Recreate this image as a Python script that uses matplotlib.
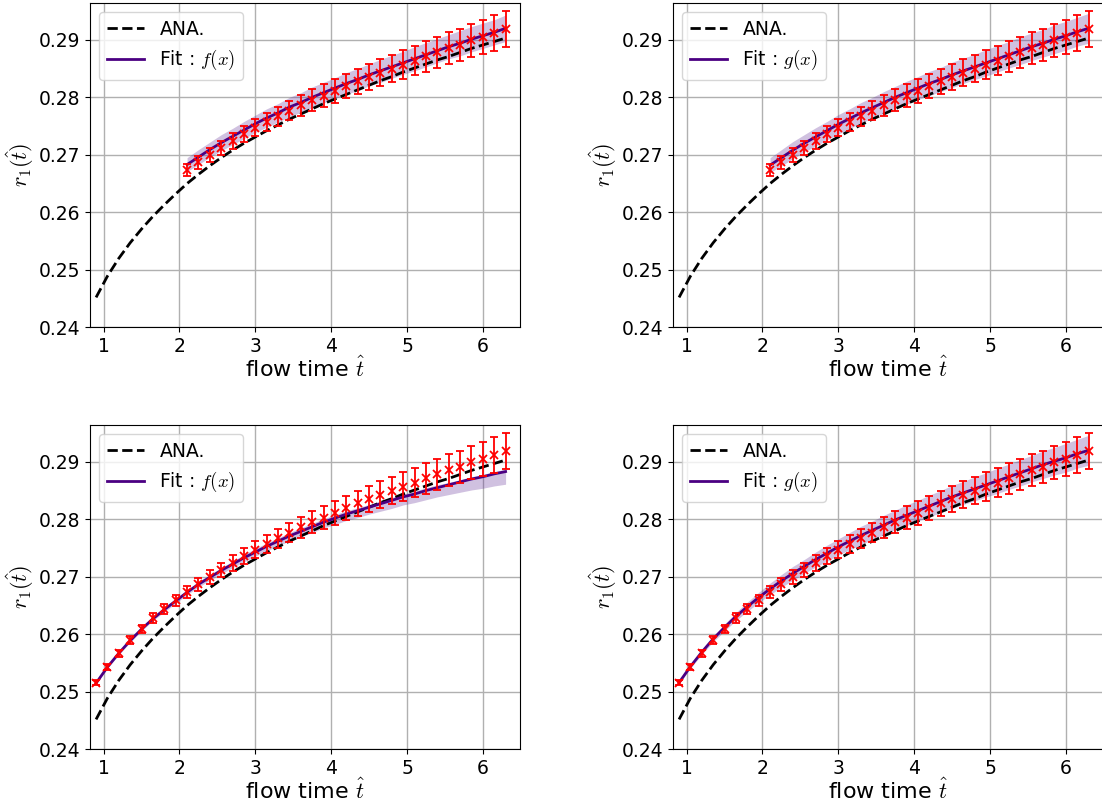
import matplotlib
matplotlib.use("Agg")
import numpy as np
import matplotlib.pyplot as plt

plt.rcParams['mathtext.fontset'] = 'cm'

# flow times of the measured points
t_hat = [0.90, 1.05, 1.20, 1.35, 1.50, 1.65, 1.80, 1.95, 2.10, 2.25,
         2.40, 2.55, 2.70, 2.85, 3.00, 3.15, 3.30, 3.45, 3.60, 3.75,
         3.90, 4.05, 4.20, 4.35, 4.50, 4.65, 4.80, 4.95, 5.10, 5.25,
         5.40, 5.55, 5.70, 5.85, 6.00, 6.15, 6.30]

# lattice data r_1(t) and its error
r1_data = [0.2516, 0.2543, 0.2567, 0.2590, 0.2609, 0.2628, 0.2644, 0.2659, 0.2673, 0.2687,
           0.2700, 0.2712, 0.2724, 0.2736, 0.2747, 0.2757, 0.2767, 0.2777, 0.2786, 0.2795,
           0.2803, 0.2811, 0.2819, 0.2828, 0.2836, 0.2843, 0.2850, 0.2857, 0.2864, 0.2871,
           0.2878, 0.2885, 0.2891, 0.2899, 0.2905, 0.2912, 0.2919]
r1_err = [0.00045, 0.00052, 0.00060, 0.00068, 0.00075, 0.00082, 0.00090, 0.00097, 0.00105, 0.00112,
          0.00120, 0.00127, 0.00135, 0.00142, 0.00150, 0.00157, 0.00165, 0.00172, 0.00180, 0.00187,
          0.00195, 0.00202, 0.00210, 0.00217, 0.00225, 0.00232, 0.00240, 0.00247, 0.00255, 0.00262,
          0.00270, 0.00277, 0.00285, 0.00292, 0.00300, 0.00307, 0.00315]

# analytic curve
r1_ana = [0.2452, 0.2489, 0.2520, 0.2547, 0.2571, 0.2593, 0.2613, 0.2632, 0.2650, 0.2666,
          0.2681, 0.2695, 0.2708, 0.2720, 0.2731, 0.2742, 0.2752, 0.2762, 0.2771, 0.2780,
          0.2789, 0.2797, 0.2805, 0.2813, 0.2821, 0.2829, 0.2836, 0.2844, 0.2851, 0.2858,
          0.2865, 0.2871, 0.2878, 0.2885, 0.2891, 0.2897, 0.2903]

# fits starting at t = 2.1 (top row)
fit_f_top = [0.2683, 0.2696, 0.2709, 0.2721, 0.2732, 0.2743, 0.2754, 0.2764, 0.2773, 0.2783,
             0.2791, 0.2800, 0.2808, 0.2816, 0.2824, 0.2831, 0.2839, 0.2846, 0.2853, 0.2860,
             0.2867, 0.2874, 0.2881, 0.2888, 0.2894, 0.2901, 0.2907, 0.2913, 0.2920]
band_f_top = [0.0012, 0.0013, 0.0013, 0.0014, 0.0014, 0.0015, 0.0015, 0.0016, 0.0016, 0.0017,
              0.0017, 0.0018, 0.0018, 0.0018, 0.0019, 0.0019, 0.0019, 0.0020, 0.0020, 0.0020,
              0.0021, 0.0021, 0.0021, 0.0021, 0.0022, 0.0022, 0.0022, 0.0022, 0.0023]
fit_g_top = [0.2682, 0.2695, 0.2708, 0.2720, 0.2731, 0.2742, 0.2753, 0.2763, 0.2773, 0.2782,
             0.2791, 0.2800, 0.2808, 0.2816, 0.2824, 0.2831, 0.2839, 0.2846, 0.2853, 0.2860,
             0.2867, 0.2874, 0.2881, 0.2888, 0.2894, 0.2901, 0.2907, 0.2914, 0.2920]
band_g_top = [0.0013, 0.0014, 0.0015, 0.0015, 0.0016, 0.0016, 0.0017, 0.0017, 0.0018, 0.0018,
              0.0019, 0.0019, 0.0020, 0.0020, 0.0021, 0.0021, 0.0022, 0.0022, 0.0022, 0.0023,
              0.0023, 0.0023, 0.0024, 0.0024, 0.0024, 0.0025, 0.0025, 0.0025, 0.0026]

# fits starting at t = 0.9 (bottom row)
fit_f_all = [0.2515, 0.2543, 0.2567, 0.2589, 0.2609, 0.2627, 0.2643, 0.2658, 0.2673, 0.2687,
             0.2699, 0.2711, 0.2722, 0.2733, 0.2743, 0.2753, 0.2762, 0.2771, 0.2779, 0.2787,
             0.2795, 0.2802, 0.2809, 0.2815, 0.2821, 0.2827, 0.2833, 0.2839, 0.2844, 0.2850,
             0.2855, 0.2860, 0.2865, 0.2870, 0.2874, 0.2879, 0.2883]
band_f_all_up = [0.0001, 0.0002, 0.0002, 0.0003, 0.0003, 0.0003, 0.0004, 0.0004, 0.0004, 0.0005,
                 0.0005, 0.0005, 0.0005, 0.0006, 0.0006, 0.0006, 0.0006, 0.0006, 0.0006, 0.0006,
                 0.0006, 0.0006, 0.0006, 0.0005, 0.0005, 0.0005, 0.0005, 0.0005, 0.0005, 0.0005,
                 0.0005, 0.0004, 0.0004, 0.0004, 0.0004, 0.0004, 0.0004]
band_f_all_lo = [0.0001, 0.0002, 0.0002, 0.0003, 0.0003, 0.0003, 0.0004, 0.0004, 0.0004, 0.0005,
                 0.0005, 0.0006, 0.0006, 0.0007, 0.0007, 0.0008, 0.0008, 0.0009, 0.0009, 0.0010,
                 0.0010, 0.0011, 0.0011, 0.0012, 0.0012, 0.0013, 0.0014, 0.0014, 0.0015, 0.0016,
                 0.0016, 0.0017, 0.0018, 0.0019, 0.0020, 0.0021, 0.0022]
fit_g_all = [0.2516, 0.2544, 0.2569, 0.2592, 0.2612, 0.2631, 0.2648, 0.2664, 0.2679, 0.2693,
             0.2706, 0.2718, 0.2730, 0.2741, 0.2752, 0.2762, 0.2772, 0.2781, 0.2790, 0.2799,
             0.2807, 0.2815, 0.2823, 0.2831, 0.2839, 0.2846, 0.2853, 0.2860, 0.2867, 0.2874,
             0.2881, 0.2888, 0.2895, 0.2901, 0.2907, 0.2914, 0.2920]
band_g_all = [0.0002, 0.0003, 0.0004, 0.0005, 0.0006, 0.0007, 0.0008, 0.0009, 0.0010, 0.0011,
              0.0012, 0.0012, 0.0013, 0.0014, 0.0014, 0.0015, 0.0016, 0.0016, 0.0017, 0.0017,
              0.0018, 0.0018, 0.0019, 0.0019, 0.0020, 0.0020, 0.0021, 0.0021, 0.0022, 0.0022,
              0.0023, 0.0023, 0.0024, 0.0024, 0.0025, 0.0025, 0.0026]

x_ticks = [1, 2, 3, 4, 5, 6]
y_ticks = [0.24, 0.25, 0.26, 0.27, 0.28, 0.29]

START_TOP = 8  # index of t = 2.1


def draw_panel(ax, start, fit, band_lo, band_up, fit_name):
    t = np.array(t_hat)
    fit = np.array(fit)
    t_fit = t[start:]

    ax.plot(t, r1_ana, '--', color='black', lw=2, label='ANA.', zorder=3)
    ax.fill_between(t_fit, fit - np.array(band_lo), fit + np.array(band_up),
                    color='rebeccapurple', alpha=0.3, lw=0, zorder=2)
    ax.plot(t_fit, fit, '-', color='indigo', lw=2,
            label='Fit : $%s$' % fit_name, zorder=4)
    ax.errorbar(t[start:], r1_data[start:], yerr=r1_err[start:], fmt='x',
                color='red', ms=5.5, mew=1.3, elinewidth=1.3, capsize=3,
                capthick=1.3, zorder=5)

    ax.set_xlim(0.82, 6.49)
    ax.set_ylim(0.24, 0.2964)
    ax.set_xticks(x_ticks)
    ax.set_yticks(y_ticks)
    ax.set_yticklabels(['%.2f' % v for v in y_ticks])
    ax.tick_params(labelsize=13.5)
    ax.grid(True, color='#b0b0b0', lw=1)
    ax.set_axisbelow(True)
    ax.set_xlabel(r'flow time $\hat{t}$', fontsize=16, labelpad=0)
    ax.set_ylabel(r'$r_1(\hat{t})$', fontsize=16, labelpad=2)
    ax.legend(loc='upper left', fontsize=13.5)


def main():
    fig = plt.figure(figsize=(11.02, 8.05), dpi=100)
    W, H = 1102.0, 805.0
    w, h = 430 / W, 324.3 / H
    left_x, right_x = 90 / W, 673 / W
    top_y, bot_y = 1 - 327.3 / H, 1 - 749.3 / H

    ax_tl = fig.add_axes([left_x, top_y, w, h])
    ax_tr = fig.add_axes([right_x, top_y, w, h])
    ax_bl = fig.add_axes([left_x, bot_y, w, h])
    ax_br = fig.add_axes([right_x, bot_y, w, h])

    draw_panel(ax_tl, START_TOP, fit_f_top, band_f_top, band_f_top, 'f(x)')
    draw_panel(ax_tr, START_TOP, fit_g_top, band_g_top, band_g_top, 'g(x)')
    draw_panel(ax_bl, 0, fit_f_all, band_f_all_lo, band_f_all_up, 'f(x)')
    draw_panel(ax_br, 0, fit_g_all, band_g_all, band_g_all, 'g(x)')

    fig.savefig('out.png', dpi=100)


if __name__ == '__main__':
    main()
